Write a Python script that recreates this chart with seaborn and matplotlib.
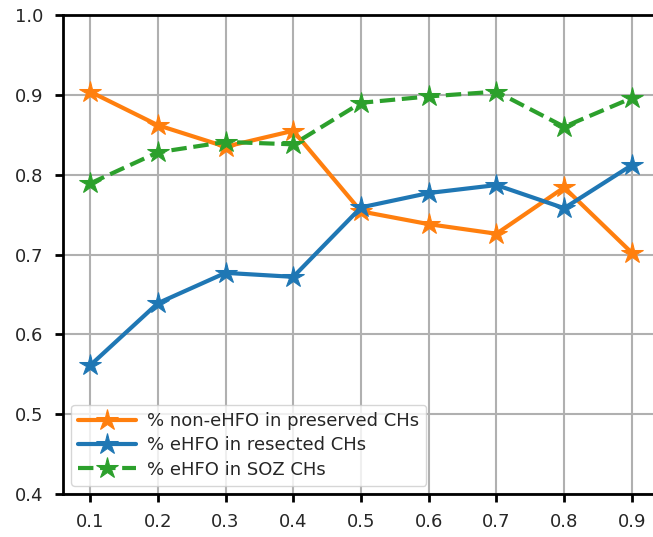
import matplotlib
matplotlib.use("Agg")
import matplotlib.pyplot as plt
import seaborn as sns
import pandas as pd

thresholds = [0.1, 0.2, 0.3, 0.4, 0.5, 0.6, 0.7, 0.8, 0.9]
non_ehfo_preserved = [0.904, 0.862, 0.835, 0.855, 0.754, 0.738, 0.726, 0.784, 0.702]
ehfo_resected = [0.561, 0.639, 0.677, 0.672, 0.759, 0.777, 0.787, 0.758, 0.812]
ehfo_soz = [0.789, 0.828, 0.841, 0.838, 0.890, 0.898, 0.904, 0.860, 0.896]
labels = ["% non-eHFO in preserved CHs", "% eHFO in resected CHs", "% eHFO in SOZ CHs"]

sns.set_style("ticks")
plt.rcParams['font.family'] = ['DejaVu Sans']

fig = plt.figure(figsize=(6.53, 5.37), dpi=100)
W, H = 653, 537
ax = fig.add_axes([63 / W, (H - 494) / H, (659 - 63) / W, (494 - 15) / H])

df = pd.DataFrame({"x": thresholds * 3,
                   "y": non_ehfo_preserved + ehfo_resected + ehfo_soz,
                   "s": [labels[0]] * 9 + [labels[1]] * 9 + [labels[2]] * 9})

colors = ["#ff7f0e", "#1f77b4", "#2ca02c"]
styles = ["-", "-", "--"]
for lab, c, ls in zip(labels, colors, styles):
    sub = df[df["s"] == lab]
    sns.lineplot(data=sub, x="x", y="y", ax=ax, color=c, linestyle=ls,
                 linewidth=3, marker="*", markersize=16, markeredgecolor=c,
                 label=lab)

ax.set_xlim(0.06, 0.94)
ax.set_ylim(0.4, 1.0)
ax.set_xticks(thresholds)
ax.set_xticklabels([f"{t:.1f}" for t in thresholds])
ax.set_yticks([0.4, 0.5, 0.6, 0.7, 0.8, 0.9, 1.0])
ax.grid(True, color="#b0b0b0", linewidth=1.5)
ax.set_xlabel("")
ax.set_ylabel("")
for sp in ax.spines.values():
    sp.set_linewidth(2)
    sp.set_color("black")
ax.spines["right"].set_visible(False)
ax.tick_params(axis="both", labelsize=13, width=2, length=6, color="black", pad=8)
ax.legend(loc="lower left", fontsize=13, frameon=True, handlelength=3.2,
          borderaxespad=0.45, labelspacing=0.35, handletextpad=0.6)

fig.savefig("out.png", dpi=100)
